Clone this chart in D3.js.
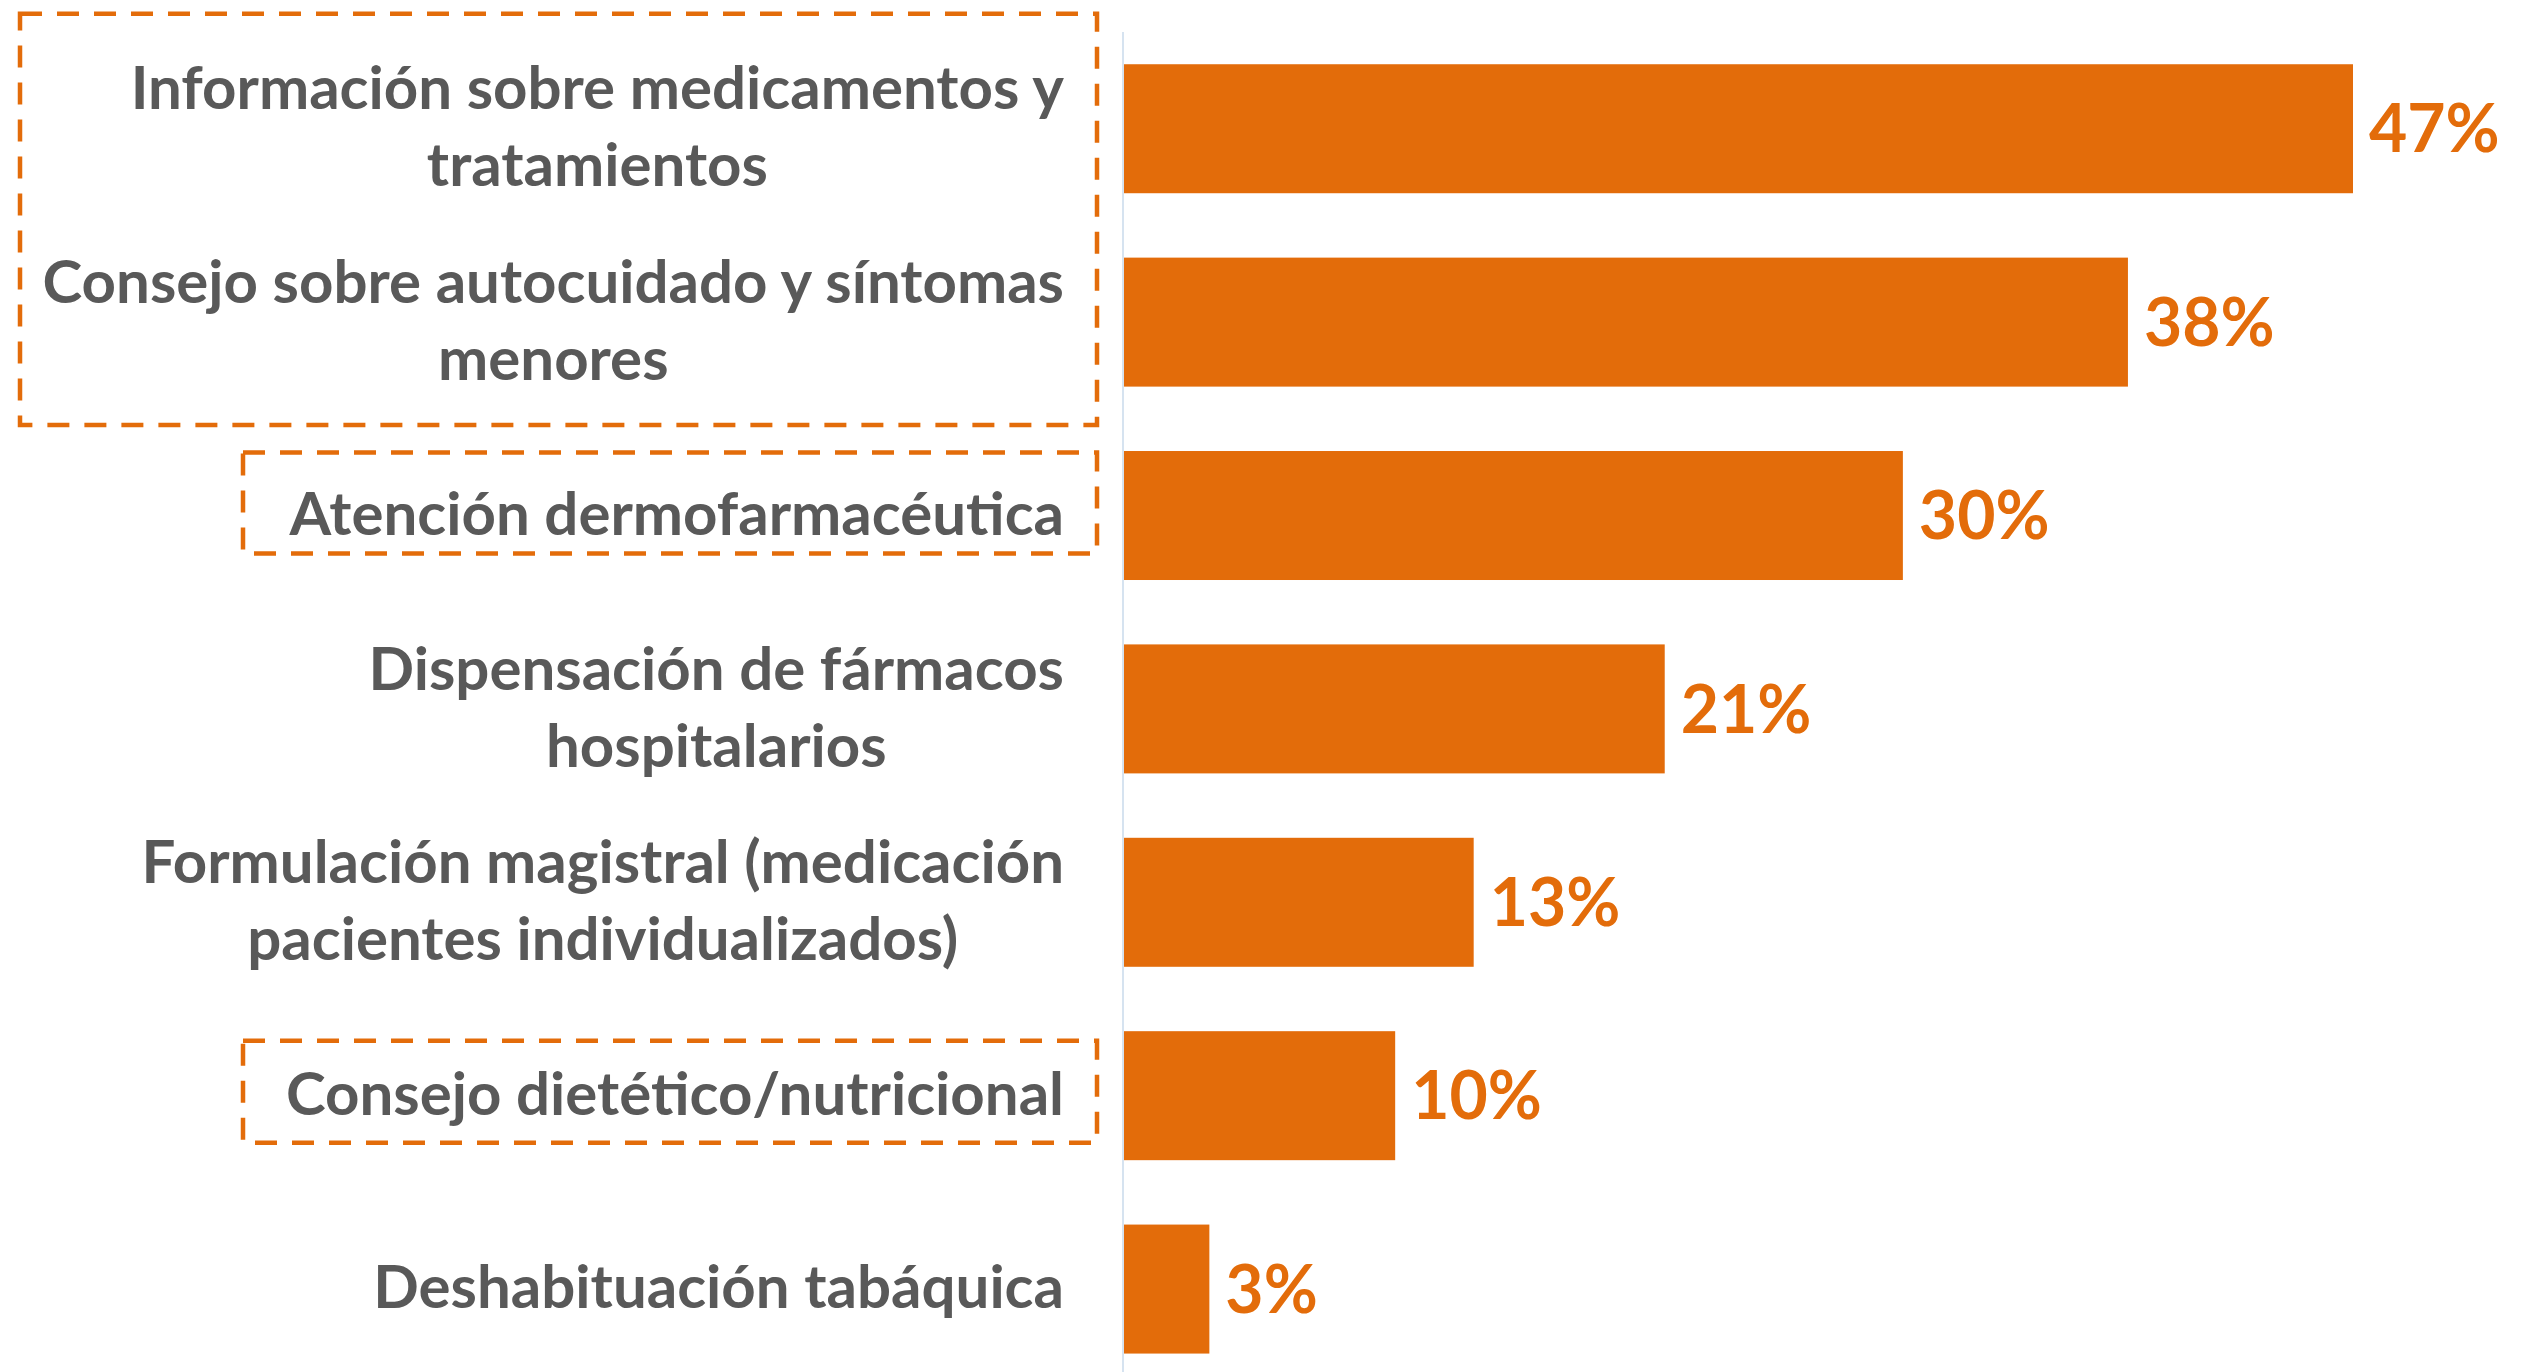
<!DOCTYPE html>
<html>
<head>
<meta charset="utf-8">
<script src="https://cdn.jsdelivr.net/npm/d3@7"></script>
<style>
  body { margin: 0; background: #fff; }
  svg { display: block; font-family: Lato, "Open Sans", sans-serif; }
</style>
</head>
<body>
<div class="bar-chart-container"></div>
<script>
// data
const categories = [
  'Información sobre medicamentos y|tratamientos',
  'Consejo sobre autocuidado y síntomas|menores',
  'Atención dermofarmacéutica',
  'Dispensación de fármacos|hospitalarios',
  'Formulación magistral (medicación|pacientes individualizados)',
  'Consejo dietético/nutricional',
  'Deshabituación tabáquica'
];
const values = [47, 38.4, 29.8, 20.7, 13.4, 10.4, 3.3];
// which rows get the dashed orange frame (first row, last row)
const highlighted = [[0, 1], [2, 2], [5, 5]];

const width = 2527;
const height = 1372;
const axis_x = 1123;
const label_right = 1064;
const orange = '#e36c0a';
const grey = '#595959';

const svg = d3.select('.bar-chart-container')
  .append('svg')
  .attr('width', width)
  .attr('height', height);

const yScale = d3.scaleBand()
  .domain(d3.range(categories.length))
  .range([32, 32 + 193.4 * categories.length])
  .paddingInner(0.333)
  .paddingOuter(0.1667);

const xScale = d3.scaleLinear()
  .domain([0, 47])
  .range([axis_x, 2353]);

// bars
svg.selectAll('.bar')
  .data(values)
  .enter()
  .append('rect')
  .attr('class', 'bar')
  .attr('x', xScale(0) + 1)
  .attr('y', (d, i) => yScale(i))
  .attr('width', d => xScale(d) - xScale(0) - 1)
  .attr('height', yScale.bandwidth())
  .style('fill', orange);

// vertical axis line
svg.append('line')
  .attr('x1', axis_x).attr('x2', axis_x)
  .attr('y1', 32).attr('y2', height)
  .style('stroke', '#d6e3f0')
  .style('stroke-width', 2);

// value labels
svg.selectAll('.val')
  .data(values)
  .enter()
  .append('text')
  .attr('class', 'val')
  .attr('x', d => xScale(d) + 16)
  .attr('y', (d, i) => yScale(i) + yScale.bandwidth() / 2)
  .attr('dy', '0.36em')
  .style('font-size', '66px')
  .style('font-weight', 'bold')
  .style('fill', orange)
  .text(d => Math.round(d) + '%');

// category labels: lines centred on each other, block right-aligned
const lineGap = 77;
const labels = svg.selectAll('.cat')
  .data(categories)
  .enter()
  .append('text')
  .attr('class', 'cat')
  .style('font-size', '60px')
  .style('font-weight', 'bold')
  .style('fill', grey)
  .attr('text-anchor', 'middle');

labels.each(function(d, i) {
  const lines = d.split('|');
  const t = d3.select(this);
  const cy = yScale(i) + yScale.bandwidth() / 2;
  lines.forEach((ln, k) => {
    t.append('tspan')
      .attr('y', cy + (k - (lines.length - 1) / 2) * lineGap)
      .attr('dy', '0.32em')
      .text(ln);
  });
  const w = d3.max(t.selectAll('tspan').nodes(), n => n.getComputedTextLength());
  t.selectAll('tspan').attr('x', label_right - w / 2);
});

// dashed frames around highlighted labels
const frameLeft = [20, 243, 243];
const frameTop = [115, 63, 55];
const frameBottom = [103, 38, 47];
const frameRight = 1097;
svg.selectAll('.frame')
  .data(highlighted)
  .enter()
  .append('rect')
  .attr('class', 'frame')
  .attr('x', (d, i) => frameLeft[i])
  .attr('y', (d, i) => yScale(d[0]) + yScale.bandwidth() / 2 - frameTop[i])
  .attr('width', (d, i) => frameRight - frameLeft[i])
  .attr('height', (d, i) => yScale(d[1]) - yScale(d[0]) + frameTop[i] + frameBottom[i])
  .style('fill', 'none')
  .style('stroke', orange)
  .style('stroke-width', 4.5)
  .style('stroke-dasharray', '22,15');
</script>
</body>
</html>
